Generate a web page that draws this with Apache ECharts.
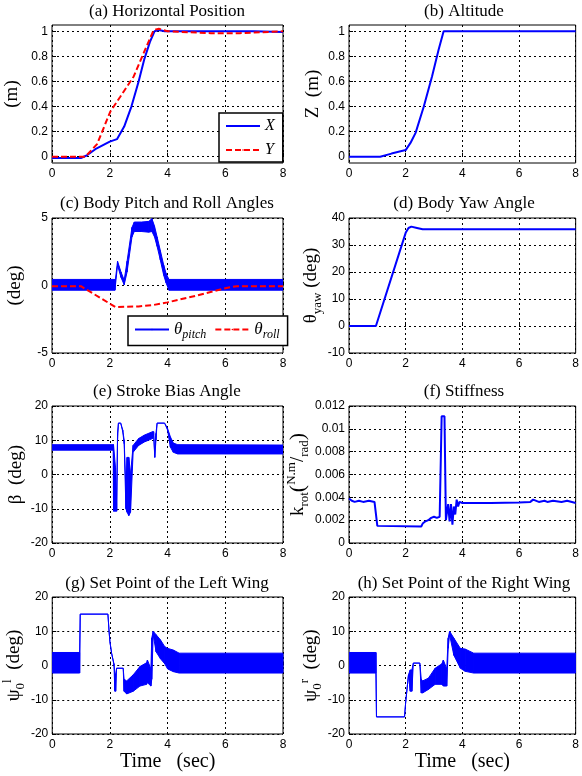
<!DOCTYPE html>
<html>
<head>
<meta charset="utf-8">
<script src="https://cdn.jsdelivr.net/npm/echarts@6/dist/echarts.min.js"></script>
<style>
  html, body { margin: 0; padding: 0; background: #fff; }
  #chart { width: 582px; height: 776px; }
</style>
</head>
<body>
<div id="chart"></div>
<script>
// ---- data (time in sec) ----
const timeTicks = [0, 2, 4, 6, 8];
const unitTicks = [0, 0.2, 0.4, 0.6, 0.8, 1];

// (a) horizontal position
const posXT = [0, 1.0, 1.2, 1.5, 2.0, 2.25, 2.5, 2.75, 3.0, 3.2, 3.4, 3.55, 3.7, 3.9, 5, 6, 7, 8];
const posXV = [-0.01, -0.01, 0.01, 0.06, 0.12, 0.14, 0.24, 0.40, 0.60, 0.78, 0.92, 1.0, 1.01, 1.0, 1.0, 1.0, 1.0, 0.995];
const posYT = [0, 1.0, 1.15, 1.56, 2.02, 2.37, 2.83, 3.18, 3.52, 3.7, 4.0, 5, 5.5, 6.5, 7, 8];
const posYV = [0, 0, 0.0, 0.10, 0.36, 0.48, 0.64, 0.83, 1.01, 1.02, 1.0, 0.99, 0.985, 0.985, 0.99, 1.0];

// (b) altitude
const altT = [0, 1.1, 1.5, 2.0, 2.17, 2.35, 2.64, 2.93, 3.16, 3.34, 8];
const altZ = [0, 0, 0.025, 0.053, 0.11, 0.19, 0.40, 0.64, 0.85, 1.0, 1.0];

// (c) pitch (envelope of the oscillation) and roll
const pitchT  = [0, 2.18, 2.2, 2.27, 2.39, 2.5, 2.6, 2.77, 2.85, 3.1, 3.35, 3.46, 3.55, 3.64, 3.75, 3.87, 3.95, 4.05, 8];
const pitchHi = [0.45, 0.45, 0.5, 1.8, 1.0, 0.4, 1.8, 4.3, 4.7, 4.7, 4.75, 4.95, 4.4, 3.6, 2.6, 1.5, 0.9, 0.45, 0.45];
const pitchLo = [-0.35, -0.35, 0.1, 1.5, 0.6, 0.05, 1.0, 3.6, 4.0, 4.0, 3.95, 4.0, 3.6, 2.9, 1.9, 0.75, 0.2, -0.35, -0.35];
const rollT = [0, 1.0, 2.2, 3.0, 3.5, 4.0, 5.0, 6.0, 6.4, 8];
const rollV = [-0.05, -0.05, -1.6, -1.55, -1.45, -1.25, -0.75, -0.2, -0.05, -0.05];

// (d) yaw
const yawT = [0, 0.95, 1.0, 2.0, 2.1, 2.2, 2.4, 2.6, 8];
const yawV = [0, 0, 0.5, 34.5, 36.3, 36.8, 36.3, 35.8, 35.8];

// (e) stroke bias (envelope)
const biasT  = [0, 2.12, 2.13, 2.2, 2.24, 2.27, 2.3, 2.38, 2.45, 2.5, 2.56, 2.6, 2.66, 2.72, 2.81, 3.0, 3.2, 3.48, 3.52, 3.56, 3.6, 3.64, 3.9, 4.0, 4.1, 4.2, 4.35, 8];
const biasHi = [8.7, 8.7, 8.7, 2, -9, 12, 15, 15, 13, 10, -5, 5, 5, 0, 8.5, 10.5, 11.5, 12.5, 12.5, 5.5, 12, 15, 15, 13.5, 11, 9.2, 8.7, 8.6];
const biasLo = [7.1, 7.1, -10.7, -10.7, -10.7, 10, 15, 15, 12.5, 9, -10, -11, -12, -11, 6.5, 8.5, 9.5, 10.5, 11.5, 5, 10, 15, 15, 13, 8, 6.5, 6.0, 6.0];

// (f) stiffness
const stiffT = [0, 0.1, 0.2, 0.35, 0.4, 0.5, 0.7, 0.9, 0.97, 1.0, 1.05, 2.55, 2.6, 2.65, 2.7, 2.8, 2.9, 3.0, 3.1, 3.2, 3.23, 3.27, 3.37, 3.42, 3.45, 3.5, 3.55, 3.6, 3.65, 3.7, 3.75, 3.8, 3.85, 3.9, 4.0, 5.0, 6.0, 6.4, 6.5, 6.7, 6.9, 7.0, 7.2, 7.5, 7.7, 8];
const stiffV = [0.0039, 0.0037, 0.0036, 0.0037, 0.0036, 0.0036, 0.0037, 0.0036, 0.0037, 0.0015, 0.00145, 0.00145, 0.0017, 0.0016, 0.0019, 0.002, 0.0022, 0.0023, 0.0022, 0.0023, 0.0024, 0.0111, 0.0111, 0.002, 0.002, 0.0034, 0.0019, 0.0034, 0.0016, 0.0032, 0.0025, 0.0038, 0.0032, 0.0036, 0.0035, 0.0035, 0.00355, 0.0036, 0.0038, 0.0036, 0.0037, 0.0036, 0.0037, 0.0036, 0.0037, 0.0035];

// (g) left wing set point (envelope)
const leftT  = [0, 0.95, 0.97, 1.93, 1.97, 2.0, 2.06, 2.14, 2.17, 2.2, 2.23, 2.46, 2.49, 2.58, 2.81, 3.04, 3.27, 3.3, 3.42, 3.45, 3.5, 3.6, 3.75, 3.9, 4.0, 4.2, 4.4, 8];
const leftHi = [3.8, 3.8, 15, 15, 10, 6.9, 3.5, 0.5, -2.5, -2.5, -0.8, -0.8, -4, -4.5, -2.7, -0.3, 0.8, 1.6, -1, 8, 10, 9, 7.5, 5.5, 5, 4.5, 3.6, 3.6];
const leftLo = [-2.2, -2.2, 15, 15, 10, 6.9, 3.5, 0.2, -7.5, -7.5, -0.8, -0.8, -7.5, -8.3, -7.5, -6, -5.5, -5, -6, -4, 9, 4, 2, 0.5, -1, -1.8, -2.2, -2.2];

// (h) right wing set point (envelope)
const rightT  = [0, 0.95, 0.97, 1.96, 2.0, 2.1, 2.16, 2.22, 2.27, 2.5, 2.55, 2.6, 2.8, 3.04, 3.28, 3.33, 3.45, 3.5, 3.55, 3.7, 3.93, 4.1, 4.4, 8];
const rightHi = [3.8, 3.8, -15, -15, -10.8, -2.7, -1.3, -1.3, 0.7, 0.7, -4, -4.5, -3.7, -0.8, 0.5, 1.6, -1, 8, 10, 8, 5, 4.8, 3.6, 3.6];
const rightLo = [-2.2, -2.2, -15, -15, -10.8, -2.7, -7.5, -7.5, 0.7, 0.7, -8, -8, -7, -5.5, -5.5, -6, -6, 5, 9, 3, -0.8, -1.7, -2.2, -2.2];

const titles = ['(a) Horizontal Position', '(b) Altitude', '(c) Body Pitch and Roll Angles', '(d) Body Yaw Angle',
  '(e) Stroke Bias Angle', '(f) Stiffness', '(g) Set Point of the Left Wing', '(h) Set Point of the Right Wing'];

const BLUE = '#0000ff';
const RED = '#ff0000';
const DASH = [6, 3];
const SERIF = 'Liberation Serif';
const SANS = 'Liberation Sans';

const chart = echarts.init(document.getElementById('chart'), null, { renderer: 'canvas' });

const grids = [
  { left: 52, top: 25, width: 231, height: 138 },
  { left: 349, top: 25, width: 230, height: 138 },
  { left: 52, top: 218, width: 231, height: 135 },
  { left: 349, top: 218, width: 230, height: 135 },
  { left: 52, top: 406, width: 231, height: 137 },
  { left: 349, top: 406, width: 230, height: 137 },
  { left: 52, top: 597, width: 231, height: 137 },
  { left: 349, top: 597, width: 230, height: 137 }
].map(g => Object.assign(g, { show: true, borderColor: '#000', borderWidth: 1, containLabel: false }));

const dotted = { color: '#000', width: 1, type: [2, 3] };
const richName = {
  m: { fontFamily: SERIF, fontSize: 19, lineHeight: 26, color: '#000' },
  s: { fontFamily: SERIF, fontSize: 13, lineHeight: 15, verticalAlign: 'bottom', color: '#000' },
  u: { fontFamily: SERIF, fontSize: 13, lineHeight: 15, verticalAlign: 'top', color: '#000' },
  p: { fontFamily: SERIF, fontSize: 22, lineHeight: 26, color: '#000' }
};

const xAxes = grids.map((g, i) => ({
  gridIndex: i, type: 'value', min: 0, max: 8, interval: 2,
  axisLine: { show: false },
  axisTick: { show: true, inside: true, length: 4, lineStyle: { color: '#000' } },
  axisLabel: { color: '#000', fontFamily: SANS, fontSize: 12, margin: 5 },
  splitLine: { show: true, lineStyle: dotted },
  name: i >= 6 ? 'Time   (sec)' : '',
  nameLocation: 'middle', nameGap: 18,
  nameTextStyle: { fontFamily: SERIF, fontSize: 20, color: '#000' }
}));

const ySpec = [
  { min: -0.05, max: 1.05, custom: unitTicks, name: '(m)', gap: 30 },
  { min: -0.05, max: 1.05, custom: unitTicks, name: 'Z  (m)', gap: 26 },
  { min: -5, max: 5, interval: 5, name: '(deg)', gap: 27 },
  { min: -10, max: 40, interval: 10, name: '{m|θ}{s|yaw}{m| (deg)}', gap: 21 },
  { min: -20, max: 20, interval: 10, name: 'β  (deg)', gap: 26 },
  { min: 0, max: 0.012, interval: 0.002, name: '{m|k}{s|rot}{p|(}{u|N.m}{m|/}{s|rad}{p|)}', gap: 32 },
  { min: -20, max: 20, interval: 10, name: '{m|ψ}{s|0}{u|l}{m|  (deg)}', gap: 18 },
  { min: -20, max: 20, interval: 10, name: '{m|ψ}{s|0}{u|r}{m|  (deg)}', gap: 20 }
];

const yAxes = ySpec.map((s, i) => {
  const ax = {
    gridIndex: i, type: 'value', min: s.min, max: s.max,
    axisLine: { show: false },
    axisTick: { show: true, inside: true, length: 4, lineStyle: { color: '#000' } },
    axisLabel: { color: '#000', fontFamily: SANS, fontSize: 12, margin: 4 },
    splitLine: { show: true, lineStyle: dotted },
    name: s.name, nameLocation: 'middle', nameGap: s.gap, nameRotate: 90,
    nameTextStyle: { fontFamily: SERIF, fontSize: 19, color: '#000', rich: richName }
  };
  if (s.custom) {
    ax.axisTick.customValues = s.custom;
    ax.axisLabel.customValues = s.custom;
  } else {
    ax.interval = s.interval;
  }
  return ax;
});

function line(idx, name, t, v, color, width, dash) {
  return {
    type: 'line', name: name, xAxisIndex: idx, yAxisIndex: idx,
    data: t.map((x, k) => [x, v[k]]),
    symbol: 'none', silent: true, clip: true,
    lineStyle: { color: color, width: width, type: dash || 'solid' },
    itemStyle: { color: color }
  };
}

// filled envelope of a fast oscillation, one quad per segment
function band(idx, name, t, lo, hi) {
  const rows = [];
  for (let k = 0; k < t.length - 1; k++) {
    rows.push([t[k], lo[k], hi[k], t[k + 1], lo[k + 1], hi[k + 1]]);
  }
  return {
    type: 'custom', name: name, xAxisIndex: idx, yAxisIndex: idx, clip: true, silent: true,
    encode: { x: [0, 3], y: [1, 2, 4, 5] },
    data: rows,
    itemStyle: { color: BLUE },
    renderItem: function (params, api) {
      const a = api.coord([api.value(0), api.value(1)]);
      const b = api.coord([api.value(3), api.value(4)]);
      const c = api.coord([api.value(3), api.value(5)]);
      const d = api.coord([api.value(0), api.value(2)]);
      return {
        type: 'polygon',
        shape: { points: [a, b, c, d] },
        style: { fill: BLUE, stroke: BLUE, lineWidth: 1, lineJoin: 'round' }
      };
    }
  };
}

const series = [
  line(0, 'X', posXT, posXV, BLUE, 2),
  line(0, 'Y', posYT, posYV, RED, 2, DASH),
  line(1, 'Z', altT, altZ, BLUE, 2),
  line(2, 'pitch', [], [], BLUE, 1.5), // legend icon only
  band(2, 'pitch', pitchT, pitchLo, pitchHi),
  line(2, 'roll', rollT, rollV, RED, 2, DASH),
  line(3, 'yaw', yawT, yawV, BLUE, 2),
  band(4, 'bias', biasT, biasLo, biasHi),
  line(5, 'stiff', stiffT, stiffV, BLUE, 2),
  band(6, 'left', leftT, leftLo, leftHi),
  band(7, 'right', rightT, rightLo, rightHi)
];

const titleCenters = [[167, 3], [464, 3], [167, 195], [464, 195], [167, 383], [464, 383], [167, 575], [464, 575]];
const title = titles.map((txt, i) => ({
  text: txt, left: titleCenters[i][0], top: titleCenters[i][1], textAlign: 'center', padding: 0,
  textStyle: { fontFamily: SERIF, fontSize: 17, fontWeight: 'normal', color: '#000' }
}));

const legendRich = {
  m: { fontFamily: SERIF, fontSize: 17, fontStyle: 'italic', lineHeight: 22, color: '#000' },
  s: { fontFamily: SERIF, fontSize: 12, fontStyle: 'italic', lineHeight: 13, verticalAlign: 'bottom', color: '#000' }
};

const legend = [
  {
    data: ['X', { name: 'Y', lineStyle: { type: DASH, width: 2, color: RED } }],
    orient: 'vertical', left: 219, top: 113, itemGap: 8,
    itemWidth: 34, itemHeight: 2, padding: [5, 8, 4, 6],
    borderColor: '#000', borderWidth: 1.5, backgroundColor: '#fff',
    selectedMode: false,
    textStyle: { fontFamily: SERIF, fontSize: 16, fontStyle: 'italic', color: '#000', lineHeight: 16 }
  },
  {
    data: ['pitch', { name: 'roll', lineStyle: { type: DASH, width: 2, color: RED } }],
    orient: 'horizontal', left: 128, top: 316, itemGap: 8,
    itemWidth: 34, itemHeight: 2, padding: [5, 8, 5, 6],
    borderColor: '#000', borderWidth: 1.5, backgroundColor: '#fff',
    selectedMode: false,
    formatter: function (n) { return '{m|θ}{s|' + n + '}'; },
    textStyle: { color: '#000', rich: legendRich }
  }
];

chart.setOption({
  animation: false,
  backgroundColor: '#fff',
  title: title,
  legend: legend,
  grid: grids,
  xAxis: xAxes,
  yAxis: yAxes,
  series: series
});
</script>
</body>
</html>
